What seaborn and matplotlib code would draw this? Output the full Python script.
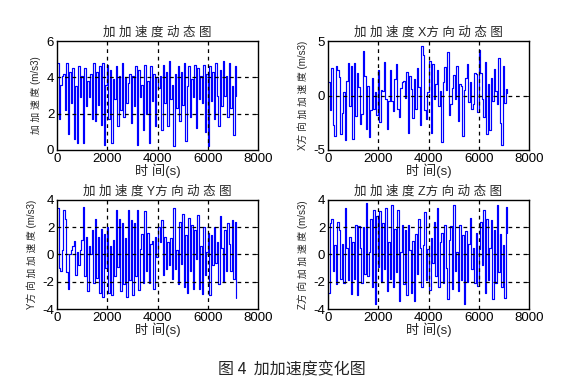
import numpy as np
import pandas as pd
import matplotlib
matplotlib.use("Agg")
import matplotlib.pyplot as plt
import seaborn as sns

sample_step_s = 60

jerk_total = [4.8, 1.7, 3.6, 4.1, 4.2, 2.2, 4.8, 0.9, 4.3, 2.6,
              4.5, 0.6, 3.5, 0.4, 4.6, 2.9, 4.1, 0.4, 4.5, 2.4,
              3.8, 2.9, 4.2, 1.7, 4.8, 1.6, 4.3, 2.5, 4.6, 1.4,
              4.8, 0.3, 3.6, 4.7, 1.7, 4.4, 0.4, 3.9, 2.8, 4.6,
              1.3, 4.1, 2.2, 4.8, 1.8, 4.0, 2.6, 3.7, 4.2, 1.5,
              4.1, 2.4, 4.6, 0.3, 4.4, 2.9, 3.6, 1.1, 4.7, 2.0,
              3.8, 0.4, 4.6, 2.7, 4.2, 1.3, 4.0, 3.4, 4.1, 1.1,
              4.7, 2.6, 4.3, 1.3, 4.9, 2.8, 3.6, 0.2, 4.2, 2.3,
              4.6, 1.6, 4.3, 2.5, 4.8, 0.5, 3.5, 4.6, 1.8, 3.9,
              2.9, 4.7, 1.2, 4.5, 2.8, 4.1, 2.6, 4.7, 1.0, 4.2,
              0.2, 4.6, 2.7, 4.3, 1.7, 4.8, 3.0, 1.3, 4.4, 2.4,
              4.9, 3.0, 4.1, 1.8, 4.8, 2.3, 3.5, 0.8, 4.6, 3.0]

jerk_x = [1.2, -1.3, 2.5, -2.7, -3.7, 2.7, 2.3, 1.7, -3.5, -1.6,
          0.3, -4.1, 1.3, 3.0, -1.0, 2.7, -4.0, 3.0, -1.9, 2.1,
          0.8, -2.6, -1.7, 4.1, 1.8, -3.1, 0.9, -3.8, -1.3, 1.6,
          -1.2, 0.3, -1.8, 2.3, -2.4, 0.5, 0.4, 3.1, -0.3, -3.1,
          -0.5, 2.3, -0.5, -1.4, 1.5, 2.9, -1.2, -2.0, 0.7, 1.2,
          1.3, -0.2, 2.2, -3.4, 1.8, 0.6, -2.1, 1.5, -1.2, 2.5,
          0.8, -2.7, 4.5, 3.7, -1.3, -2.2, 0.3, 3.2, -3.4, 2.9,
          -0.3, 1.1, 2.3, -1.0, 0.4, -4.3, 1.2, 2.6, 0.5, 4.0,
          -1.8, -0.8, 0.7, 1.9, -0.3, 2.7, -2.3, 1.1, 0.9, -3.7,
          0.5, 1.6, 2.9, -0.6, 1.2, -1.2, -0.8, 2.1, 2.0, -1.5,
          4.2, 2.1, -0.3, -2.0, 3.1, -3.5, 1.1, -3.2, 1.6, -0.5,
          2.4, 0.4, -0.8, 3.4, -2.5, -4.5, 2.7, -0.7, 0.6, 0.2]

jerk_y = [3.4, -1.0, -1.2, 0.3, 3.3, 2.6, -1.3, -2.5, 0.0, 0.3,
          0.6, 1.0, -1.5, 0.2, -0.8, 0.3, 1.1, 3.5, -1.6, 1.3,
          -2.7, 0.6, 0.0, 1.8, -2.1, 2.6, -1.7, 1.3, -2.8, 1.9,
          -3.1, 1.5, -1.0, 2.0, -2.8, 0.6, -3.0, 1.1, -1.6, 3.3,
          -0.9, 2.6, -2.7, 2.3, -2.2, 1.2, -3.1, 3.3, -1.9, 2.5,
          -3.0, 2.3, -1.6, 3.3, -2.6, 0.4, 1.5, -2.1, 3.2, -1.2,
          1.6, -2.1, 0.8, 1.0, -2.5, 1.3, -0.2, 2.0, 0.9, 2.5,
          -1.5, 1.3, -1.1, 0.9, -0.8, 1.2, -1.8, 3.4, -1.1, 0.3,
          -2.2, 2.4, -0.7, 3.0, -2.4, 1.4, -2.8, 2.7, -1.2, 2.2,
          -2.5, 1.8, -0.3, 2.9, -2.5, 0.6, -2.9, 2.0, -1.5, 0.2,
          1.6, -3.0, 1.4, -0.8, 2.0, -0.6, 0.9, -2.2, 2.8, 0.5,
          -2.0, 1.8, -1.2, 2.3, 0.8, -1.2, 2.5, -1.8, 2.4, -3.2]

jerk_z = [-2.8, 2.3, 2.6, -1.2, 0.7, -2.2, 2.4, 1.8, -1.8, 0.8,
          -2.1, 3.4, 0.5, -1.9, 1.3, -2.9, 0.9, -1.8, 2.2, -3.0,
          2.1, 0.5, -2.1, 2.0, -1.4, 3.8, -1.6, 0.2, 2.6, -2.4,
          3.3, -3.6, 2.8, -0.9, 3.2, -2.0, 2.3, -1.1, 3.4, -2.7,
          0.9, -1.8, 3.6, -2.4, 1.9, -1.3, 3.3, -3.4, 0.2, 2.2,
          -2.2, 1.8, -3.0, 2.2, 0.3, -2.8, 1.0, -3.4, 1.5, -1.4,
          2.6, 0.5, -2.4, 0.7, 3.1, -1.9, 0.4, -2.6, 1.2, -0.6,
          2.4, -1.6, 3.4, -2.4, 0.9, 1.6, -2.1, 2.2, -1.0, -3.3,
          1.1, 2.1, -2.5, 3.6, -1.2, 0.2, -2.7, 2.2, -1.9, 1.4,
          -3.6, 1.7, -2.0, 0.8, 2.7, -1.1, 0.5, -2.1, 1.6, -2.3,
          0.4, 2.4, -0.8, 3.3, -2.8, 2.6, -1.9, 0.5, 2.5, -3.3,
          1.8, -2.1, 3.6, -1.3, 1.5, -2.4, 0.7, -3.2, 3.5, 1.6]

titles = ["加 加 速 度 动 态 图", "加 加 速 度 X方 向 动 态 图",
          "加 加 速 度 Y方 向 动 态 图", "加 加 速 度 Z方 向 动 态 图"]
ylabels = ["加 加 速 度 (m/s3)", "X方 向 加 加 速 度 (m/s3)",
           "Y方 向 加 加 速 度 (m/s3)", "Z方 向 加 加 速 度 (m/s3)"]
ylims = [(0, 6), (-5, 5), (-4, 4), (-4, 4)]
yticks = [[0, 2, 4, 6], [-5, 0, 5], [-4, -2, 0, 2, 4], [-4, -2, 0, 2, 4]]
xticks = [0, 2000, 4000, 6000, 8000]
xlabel = "时 间(s)"
caption = "图 4  加加速度变化图"

sns.set_style("white")
plt.rcParams['font.family'] = ['Liberation Sans', 'Noto Sans CJK SC', 'DejaVu Sans']
plt.rcParams['axes.unicode_minus'] = False

fig = plt.figure(figsize=(5.84, 3.90), dpi=100)
fig.patch.set_facecolor("white")

positions = [
    [57/584, 1 - 150/390, 201/584, 109/390],
    [328/584, 1 - 150/390, 201/584, 109/390],
    [57/584, 1 - 309/390, 201/584, 109/390],
    [328/584, 1 - 309/390, 201/584, 109/390],
]
series = [jerk_total, jerk_x, jerk_y, jerk_z]

for i, vals in enumerate(series):
    ax = fig.add_axes(positions[i])
    df = pd.DataFrame({"t": np.arange(len(vals)) * sample_step_s, "v": vals})
    sns.lineplot(data=df, x="t", y="v", ax=ax, color="#0000ff", linewidth=0.85,
                 estimator=None, drawstyle="steps-post")
    ax.set_xlim(0, 8000)
    ax.set_ylim(*ylims[i])
    ax.set_xticks(xticks)
    ax.set_yticks(yticks[i])
    for gx in xticks[1:-1]:
        ax.axvline(gx, color="black", linestyle=(0, (3, 3)), linewidth=0.9, zorder=3)
    for gy in yticks[i][1:-1]:
        ax.axhline(gy, color="black", linestyle=(0, (3, 3)), linewidth=0.9, zorder=3)
    for s in ax.spines.values():
        s.set_color("black")
        s.set_linewidth(1.0)
        s.set_visible(True)
    ax.tick_params(direction="in", length=2, width=0.6, labelsize=9.5, pad=2,
                   top=True, right=True, colors="black")
    ax.set_title(titles[i], fontsize=9, pad=4)
    ax.set_xlabel(xlabel, fontsize=9.5, labelpad=-1)
    ax.set_ylabel(ylabels[i], fontsize=7, labelpad=4)

fig.text(0.5, 1 - 370/390, caption, ha="center", va="center", fontsize=11.5,
         family=['Noto Sans CJK SC', 'DejaVu Sans'])

fig.savefig("out.png", dpi=100, facecolor="white")
